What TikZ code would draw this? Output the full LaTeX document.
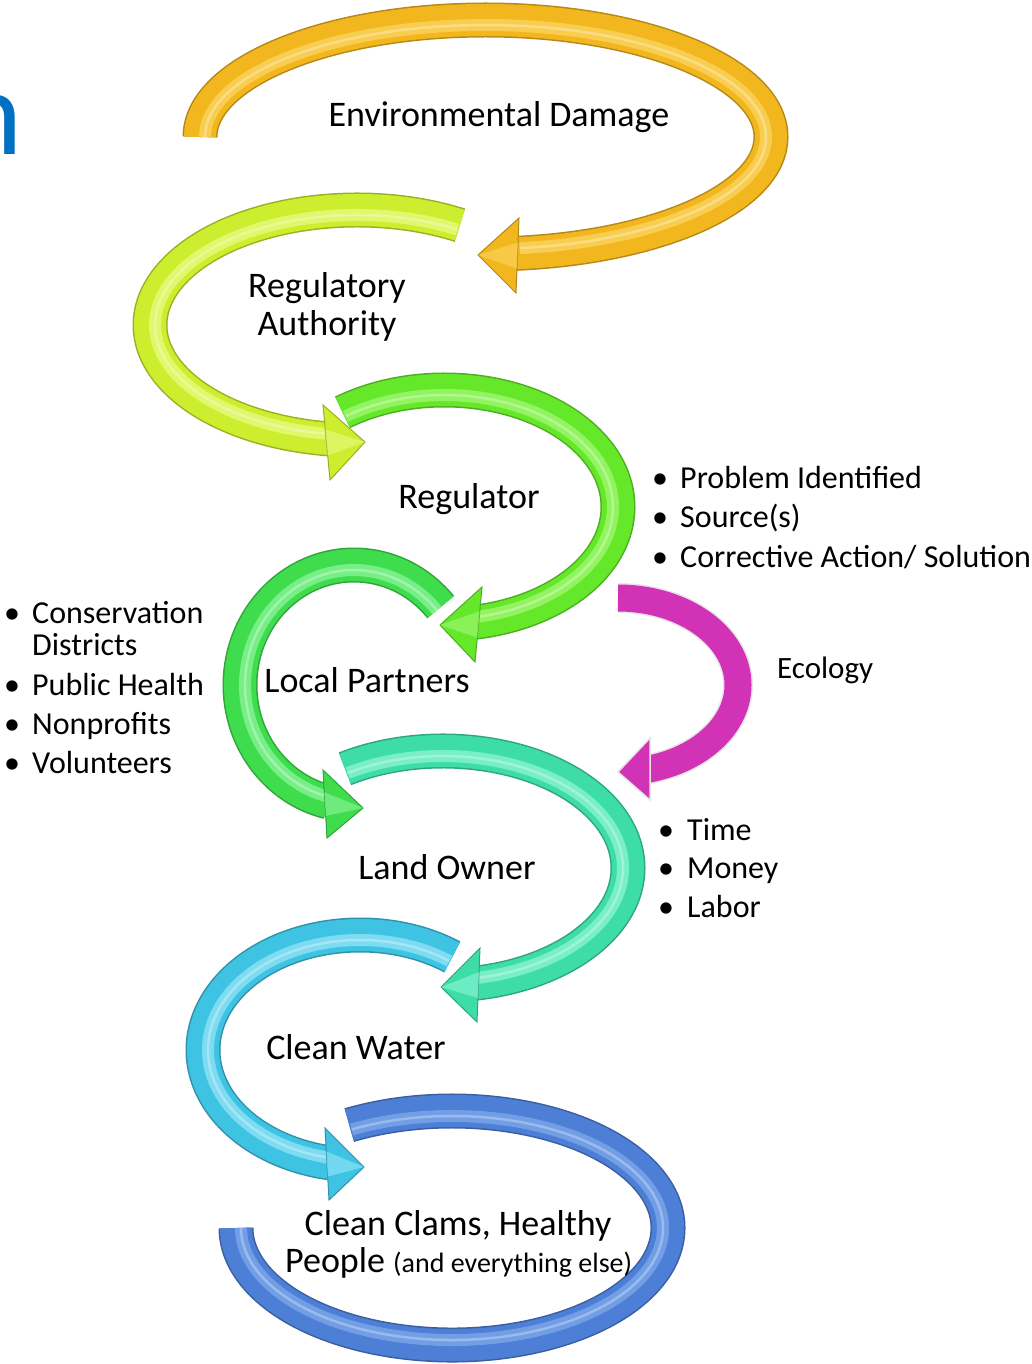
\documentclass[tikz,border=0pt]{standalone}
\usepackage{fontspec}
\setmainfont{Carlito}
\usetikzlibrary{calc}
\definecolor{cOr}{HTML}{F2B61E}
\definecolor{cOrL}{HTML}{FFE27A}
\definecolor{cYg}{HTML}{CDEE2E}
\definecolor{cYgL}{HTML}{F2FFA0}
\definecolor{cGr}{HTML}{66E82A}
\definecolor{cGrL}{HTML}{B8FF90}
\definecolor{cGm}{HTML}{3FDC4E}
\definecolor{cGmL}{HTML}{A8FFB4}
\definecolor{cTe}{HTML}{3EDDA8}
\definecolor{cTeL}{HTML}{A8FFE4}
\definecolor{cCy}{HTML}{3FC3E3}
\definecolor{cCyL}{HTML}{B0F2FF}
\definecolor{cBl}{HTML}{4D7FD6}
\definecolor{cBlL}{HTML}{90B8F2}
\definecolor{cMg}{HTML}{D232B6}
\definecolor{tblue}{HTML}{0070C0}
% tube: cx, cy, rx, ry, start, end, highlight end, colour, light colour
\newcommand\tube[9]{%
  \pgfmathsetmacro\hrx{#3-5}\pgfmathsetmacro\hry{#4-5}%
  \draw[line width=35pt,#8!75!black] (#1,-#2) ++(#5:#3pt and #4pt)
     arc[start angle=#5,end angle=#6,x radius=#3pt,y radius=#4pt];
  \draw[line width=32pt,#8] (#1,-#2) ++(#5:#3pt and #4pt)
     arc[start angle=#5,end angle=#6,x radius=#3pt,y radius=#4pt];
  \draw[line width=12pt,#9,opacity=.55] (#1,-#2) ++(#5:\hrx pt and \hry pt)
     arc[start angle=#5,end angle=#7,x radius=\hrx pt,y radius=\hry pt];
  \draw[line width=2.5pt,white,opacity=.3] (#1,-#2) ++(#5:\hrx pt and \hry pt)
     arc[start angle=#5,end angle=#7,x radius=\hrx pt,y radius=\hry pt];
}
% head: tip x,y, barb1 x,y, barb2 x,y, colour, light colour
\newcommand\head[8]{%
  \filldraw[fill=#7,draw=#7!75!black,line width=1pt,line join=miter]
     (#1,-#2) -- (#3,-#4) -- (#5,-#6) -- cycle;
  \coordinate (hb) at ($(#3,-#4)!.5!(#5,-#6)$);
  \fill[#8,opacity=.45] (#1,-#2) -- ($(hb)!.35!(#3,-#4)$) -- ($(hb)!.35!(#5,-#6)$) -- cycle;
}
\tikzset{
  lab/.style={font=\fontsize{36}{40}\selectfont,inner sep=0pt,anchor=base},
  lst/.style={font=\fontsize{32}{36}\selectfont,inner sep=0pt,anchor=base west},
}
\begin{document}
\begin{tikzpicture}[x=1pt,y=1pt]
\useasboundingbox (0,0) rectangle (1032,-1364);
\clip (0,0) rectangle (1032,-1364);
\fill[white] (0,0) rectangle (1032,-1364);

% cut-off title letter (cut off in the reference too)
\node[font=\fontsize{122}{122}\selectfont,text=tblue,inner sep=0pt,anchor=base east] (title) at (22.5,-155) {n};

% arrows
\tube{485.5}{137}{285.5}{117}{-180}{-445}{-443}{cOr}{cOrL}
\head{478}{255}{519}{218}{516}{293}{cOr}{cOrL}

\tube{357}{325}{207}{115}{60.2}{263}{261}{cYg}{cYgL}
\head{365}{442}{323}{405}{330}{480}{cYg}{cYgL}

\tube{444.5}{507}{173.5}{117}{-234}{-440}{-438.7}{cGr}{cGrL}
\head{440}{625}{482}{587}{475}{662}{cGr}{cGrL}

\tube{354}{685}{114}{120}{40.5}{257}{255.3}{cGm}{cGmL}
\head{363}{808}{323}{770}{327}{838}{cGm}{cGmL}

\tube{443}{868}{185}{117}{-238}{-440}{-438.9}{cTe}{cTeL}
\head{441}{987}{480}{948}{477}{1022}{cTe}{cTeL}

\tube{360}{1050}{157}{115}{54}{259}{257.9}{cCy}{cCyL}
\head{364}{1167}{325}{1128}{329}{1200}{cCy}{cCyL}

\tube{452}{1228}{216}{117}{-241.6}{-540}{-540}{cBl}{cBlL}

% ecology arrow
\draw[line width=30pt,black!10] (618,-685) ++(-270:120pt and 87pt)
   arc[start angle=-270,end angle=-436,x radius=120pt,y radius=87pt];
\draw[line width=27pt,cMg] (618,-685) ++(-270:120pt and 87pt)
   arc[start angle=-270,end angle=-436,x radius=120pt,y radius=87pt];
\filldraw[fill=cMg,draw=black!10,line width=1.5pt] (618,-772) -- (650,-738) -- (650,-800) -- cycle;

% labels
\node[lab] (envdmg) at (499,-127) {Environmental Damage};
\node[lab] (reg1) at (327,-297) {Regulatory};
\node[lab] (reg2) at (327,-335) {Authority};
\node[lab] (regr) at (469,-508) {Regulator};
\node[lab] (lp) at (367,-692) {Local Partners};
\node[lab] (lo) at (447,-879) {Land Owner};
\node[lab] (cw) at (356,-1059) {Clean Water};
\node[lab] (cc) at (458,-1235) {Clean Clams, Healthy};
\node[lab,anchor=base west] (pp) at (285,-1272) {People {\fontsize{28}{30}\selectfont(and everything else)}};
\node[font=\fontsize{31}{34}\selectfont,inner sep=0pt,anchor=base west] (eco) at (777,-678) {Ecology};

% bullet lists
\node[lst] (p1b) at (652,-488) {•};
\node[lst] (p1) at (680,-488) {Problem Identified};
\node[lst] (p2b) at (652,-527) {•};
\node[lst] (p2) at (680,-527) {Source(s)};
\node[lst] (p3b) at (652,-567) {•};
\node[lst] (p3) at (680,-567) {Corrective Action/ Solution};

\node[lst] (l1b) at (4,-623) {•};
\node[lst] (l1) at (32,-623) {Conservation};
\node[lst] (l1c) at (32,-655) {Districts};
\node[lst] (l2b) at (4,-695) {•};
\node[lst] (l2) at (32,-695) {Public Health};
\node[lst] (l3b) at (4,-734) {•};
\node[lst] (l3) at (32,-734) {Nonprofits};
\node[lst] (l4b) at (4,-773) {•};
\node[lst] (l4) at (32,-773) {Volunteers};

\node[lst] (t1b) at (658,-840) {•};
\node[lst] (t1) at (687,-840) {Time};
\node[lst] (t2b) at (658,-878) {•};
\node[lst] (t2) at (687,-878) {Money};
\node[lst] (t3b) at (658,-917) {•};
\node[lst] (t3) at (687,-917) {Labor};
\end{tikzpicture}
\end{document}
